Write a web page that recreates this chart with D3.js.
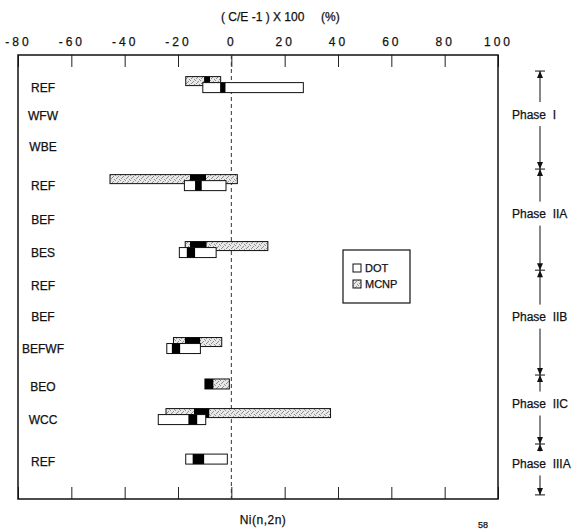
<!DOCTYPE html>
<html>
<head>
<meta charset="utf-8">
<script src="https://cdn.jsdelivr.net/npm/d3@7"></script>
<style>
  body { margin: 0; background: #fff; }
  svg text { font-family: "Liberation Sans", Arial, sans-serif; fill: #111; stroke: #111; stroke-width: 0.25px; }
</style>
</head>
<body>
<div id="chart"></div>
<script>
// rows, top to bottom
var rowLabels = ["REF", "WFW", "WBE", "REF", "BEF", "BES", "REF", "BEF", "BEFWF", "BEO", "WCC", "REF"];
var rowPos    = [0.94, 1.76, 2.69, 3.81, 4.83, 5.77, 6.76, 7.67, 8.58, 9.72, 10.66, 11.89];

// MCNP ranges (C/E-1)x100 %, with black part
var mcnpLo    = [-17.1, null, null, -45.5, null, -17.3, null, null, -21.7, -9.9, -24.5, null];
var mcnpHi    = [-4.0,  null, null,  2.25, null,  13.7, null, null,  -3.6, -0.75, 37.2, null];
var mcnpBlkLo = [-10.2, null, null, -15.5, null, -15.5, null, null, -17.4, -9.9, -14.0, null];
var mcnpBlkHi = [-8.0,  null, null,  -9.5, null,  -9.3, null, null, -11.7, -6.75, -8.3, null];

// DOT ranges
var dotLo    = [-10.7, null, null, -17.6, null, -19.5, null, null, -24.2, null, -27.4, -17.1];
var dotHi    = [27.0,  null, null,  -2.0, null,  -5.7, null, null, -11.6, null,  -9.6,  -1.5];
var dotBlkLo = [-4.2,  null, null, -13.6, null, -16.7, null, null, -22.3, null, -16.1, -14.5];
var dotBlkHi = [-2.2,  null, null, -11.1, null, -13.6, null, null, -19.2, null, -12.8, -10.2];

var phaseNames  = ["Phase  I", "Phase  IIA", "Phase  IIB", "Phase  IIC", "Phase  IIIA"];
var phaseBounds = [0.47, 3.34, 6.30, 9.37, 11.39, 12.88];

var majorTicks = d3.range(-80, 101, 20);
var minorTicks = d3.range(-80, 101, 5);

var W = 588, H = 530;
var margin = {top: 55, left: 18, right: 90, bottom: 31};

var svg = d3.select("#chart").append("svg")
    .attr("width", W)
    .attr("height", H);

var x = d3.scaleLinear().domain([-80, 100]).range([margin.left, W - margin.right]);
var y = d3.scaleLinear().domain([0, 13]).range([margin.top, H - margin.bottom]);

// stipple for MCNP
var defs = svg.append("defs");
var pat = defs.append("pattern")
    .attr("id", "stipple")
    .attr("width", 5).attr("height", 5)
    .attr("patternUnits", "userSpaceOnUse");
pat.append("rect").attr("width", 5).attr("height", 5).attr("fill", "#e8e8e8");
[[0, 0], [3, 1], [1, 3], [4, 4], [2, 2]].forEach(function(p) {
    pat.append("rect").attr("x", p[0]).attr("y", p[1]).attr("width", 1).attr("height", 1).attr("fill", "#909090");
});

// title
svg.append("text")
    .attr("x", 221).attr("y", 21)
    .style("font-size", "12px")
    .style("white-space", "pre")
    .text("( C/E -1 ) X 100     (%)");

// top axis, major + minor
var gTop = svg.append("g").attr("transform", "translate(0," + margin.top + ")");
gTop.call(d3.axisTop(x).tickValues(minorTicks).tickSize(-6).tickFormat(""));
gTop.call(d3.axisTop(x).tickValues(majorTicks).tickSize(-12).tickPadding(9).tickFormat(function(d) { return String(d); }));
gTop.selectAll(".domain").remove();
gTop.selectAll("text")
    .style("font-size", "12px")
    .style("letter-spacing", "3px")
    .attr("fill", "#111");

var gBot = svg.append("g").attr("transform", "translate(0," + (H - margin.bottom) + ")");
gBot.call(d3.axisBottom(x).tickValues(minorTicks).tickSize(-6).tickFormat(""));
gBot.call(d3.axisBottom(x).tickValues(majorTicks).tickSize(-12).tickFormat(""));
gBot.selectAll(".domain").remove();
svg.selectAll(".tick line").attr("stroke", "#222");

// frame
svg.append("rect")
    .attr("x", x(-80)).attr("y", y(0))
    .attr("width", x(100) - x(-80))
    .attr("height", y(13) - y(0))
    .attr("fill", "none")
    .attr("stroke", "#111")
    .attr("stroke-width", 1.5);

// zero line
svg.append("line")
    .attr("x1", x(0)).attr("x2", x(0))
    .attr("y1", y(0)).attr("y2", y(13))
    .attr("stroke", "#333")
    .attr("stroke-dasharray", "4,3");

// row labels
svg.append("g").selectAll("text")
    .data(rowLabels)
    .enter().append("text")
    .attr("x", 43)
    .attr("y", function(d, i) { return y(rowPos[i]) + 4.5; })
    .attr("text-anchor", "middle")
    .style("font-size", "12px")
    .text(function(d) { return d; });

// bars
var rows = rowLabels.map(function(d, i) { return i; });
function both(i) { return mcnpLo[i] != null && dotLo[i] != null; }

var gBars = svg.append("g");
// MCNP
rows.filter(function(i) { return mcnpLo[i] != null; }).forEach(function(i) {
    var top = both(i) ? y(rowPos[i]) - 10.5 : y(rowPos[i]) - 8;
    gBars.append("rect")
        .attr("x", x(mcnpLo[i])).attr("y", top)
        .attr("width", x(mcnpHi[i]) - x(mcnpLo[i])).attr("height", both(i) ? 9 : 10)
        .attr("fill", "url(#stipple)")
        .attr("stroke", "#111").attr("stroke-width", 1);
    gBars.append("rect")
        .attr("x", x(mcnpBlkLo[i])).attr("y", top)
        .attr("width", x(mcnpBlkHi[i]) - x(mcnpBlkLo[i])).attr("height", both(i) ? 9 : 10)
        .attr("fill", "#000");
});
// DOT
rows.filter(function(i) { return dotLo[i] != null; }).forEach(function(i) {
    var top = both(i) ? y(rowPos[i]) - 4.5 : y(rowPos[i]) - 7;
    gBars.append("rect")
        .attr("x", x(dotLo[i])).attr("y", top)
        .attr("width", x(dotHi[i]) - x(dotLo[i])).attr("height", 10)
        .attr("fill", "#fff")
        .attr("stroke", "#111").attr("stroke-width", 1);
    gBars.append("rect")
        .attr("x", x(dotBlkLo[i])).attr("y", top)
        .attr("width", x(dotBlkHi[i]) - x(dotBlkLo[i])).attr("height", 10)
        .attr("fill", "#000");
});

// legend
var leg = svg.append("g").attr("transform", "translate(343,250)");
leg.append("rect").attr("width", 67).attr("height", 53)
    .attr("fill", "#fff").attr("stroke", "#111").attr("stroke-width", 1.2);
[["DOT", "#fff"], ["MCNP", "url(#stipple)"]].forEach(function(d, i) {
    leg.append("rect")
        .attr("x", 10).attr("y", 14 + i * 16)
        .attr("width", 8).attr("height", 8)
        .attr("fill", d[1]).attr("stroke", "#111");
    leg.append("text")
        .attr("x", 22).attr("y", 22 + i * 16)
        .style("font-size", "11px")
        .text(d[0]);
});

// phase brackets on the right
var px = 540;
var gPh = svg.append("g");
phaseBounds.forEach(function(b) {
    gPh.append("line")
        .attr("x1", px - 5).attr("x2", px + 5)
        .attr("y1", y(b)).attr("y2", y(b))
        .attr("stroke", "#111");
});
function arrow(yy, dir) {
    // dir 1: tip pointing down at yy, -1: tip pointing up
    var t = yy, b = yy - dir * 7;
    gPh.append("path")
        .attr("d", "M" + px + "," + t + "L" + (px - 3) + "," + b + "L" + (px + 3) + "," + b + "Z")
        .attr("fill", "#111");
}
phaseNames.forEach(function(name, i) {
    var y0 = y(phaseBounds[i]), y1 = y(phaseBounds[i + 1]);
    var mid = (y0 + y1) / 2 - 6;
    gPh.append("line").attr("x1", px).attr("x2", px).attr("y1", y0).attr("y2", mid - 12).attr("stroke", "#111");
    gPh.append("line").attr("x1", px).attr("x2", px).attr("y1", mid + 12).attr("y2", y1).attr("stroke", "#111");
    arrow(y0, -1);
    arrow(y1, 1);
    gPh.append("text")
        .attr("x", 512).attr("y", mid + 4.5)
        .style("font-size", "12px")
        .style("white-space", "pre")
        .text(name);
});

// x label and page number
svg.append("text")
    .attr("x", 263).attr("y", 524)
    .attr("text-anchor", "middle")
    .style("font-size", "12px")
    .style("letter-spacing", "0.5px")
    .text("Ni(n,2n)");
svg.append("text")
    .attr("x", 483).attr("y", 528)
    .attr("text-anchor", "middle")
    .style("font-size", "9px")
    .text("58");
</script>
</body>
</html>
